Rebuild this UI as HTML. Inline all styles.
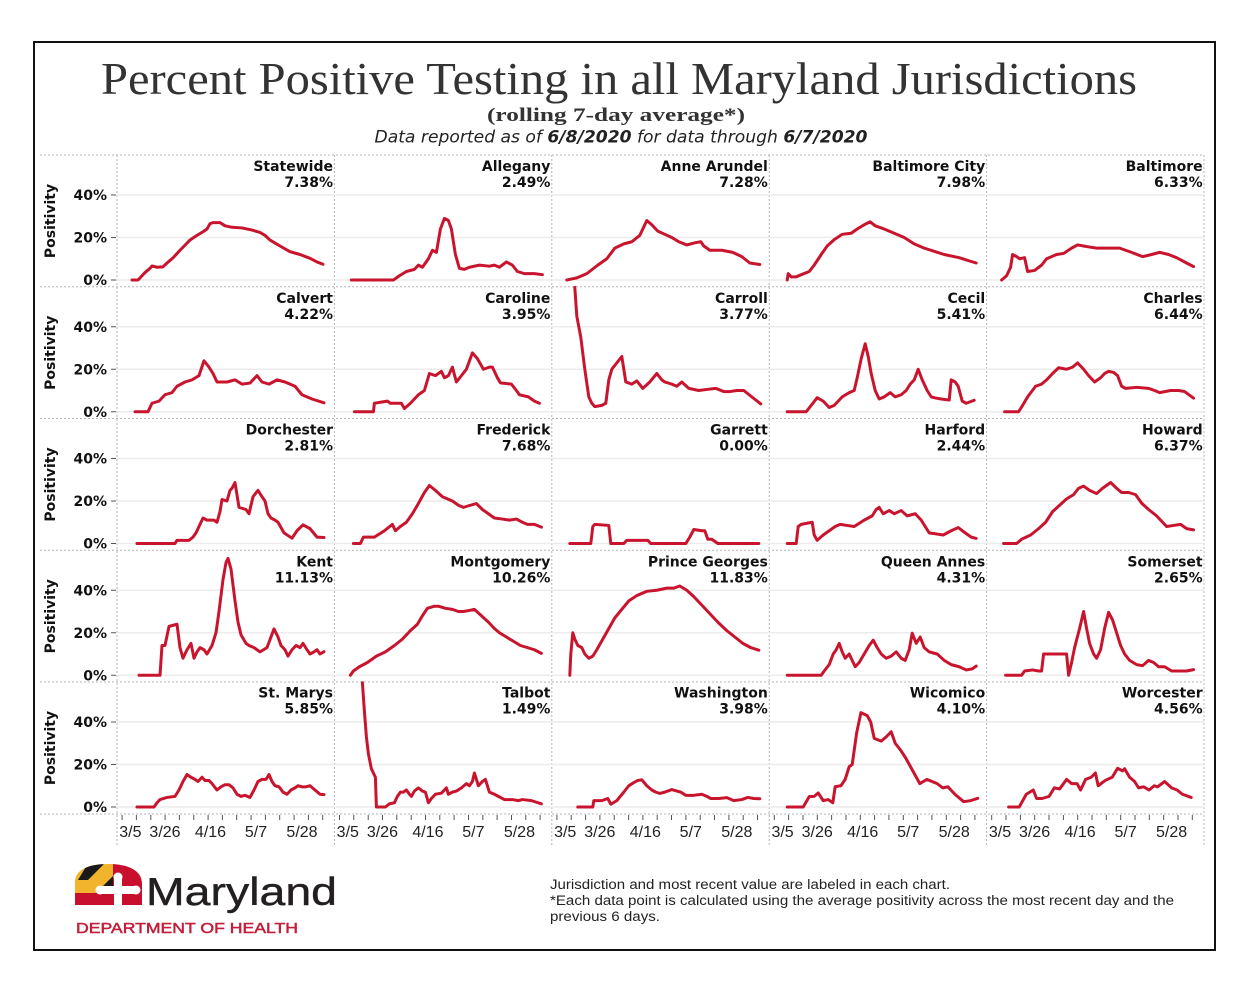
<!DOCTYPE html>
<html>
<head>
<meta charset="utf-8">
<style>
html,body{margin:0;padding:0;background:#fff;}
svg{display:block;}
.dash{stroke:#b4b4b4;stroke-width:1;stroke-dasharray:2,2;fill:none;}
.grid{stroke:#ececec;stroke-width:1.5;}
.ln{fill:none;stroke:#c9142e;stroke-width:3;stroke-linejoin:round;stroke-linecap:round;vector-effect:non-scaling-stroke;}
.lab{font-family:"DejaVu Sans","Liberation Sans",sans-serif;font-weight:bold;font-size:14px;fill:#111;text-anchor:end;}
.yl{font-family:"DejaVu Sans","Liberation Sans",sans-serif;font-weight:bold;font-size:14px;fill:#111;text-anchor:end;}
.pos{font-family:"DejaVu Sans","Liberation Sans",sans-serif;font-weight:bold;font-size:14px;fill:#111;text-anchor:middle;}
.xl{font-family:"Liberation Sans",sans-serif;font-size:16px;fill:#222;text-anchor:middle;}
.tk{stroke:#555;stroke-width:1;}
.foot{font-family:"Liberation Sans","DejaVu Sans",sans-serif;font-size:13.5px;fill:#222;}
</style>
</head>
<body>
<svg width="1256" height="986" viewBox="0 0 1256 986" xmlns="http://www.w3.org/2000/svg">
<rect x="0" y="0" width="1256" height="986" fill="#fff"/>
<rect x="34" y="42" width="1181" height="908" fill="none" stroke="#111" stroke-width="2"/>

<!-- Titles -->
<text x="619" y="94" text-anchor="middle" font-family="Liberation Serif, serif" font-size="46" fill="#333" textLength="1036" lengthAdjust="spacingAndGlyphs">Percent Positive Testing in all Maryland Jurisdictions</text>
<text x="616" y="121" text-anchor="middle" font-family="Liberation Serif, serif" font-weight="bold" font-size="19" fill="#333" textLength="258" lengthAdjust="spacingAndGlyphs">(rolling 7-day average*)</text>
<text x="621" y="142.5" text-anchor="middle" font-family="DejaVu Sans, sans-serif" font-style="italic" font-size="17" fill="#222" textLength="493" lengthAdjust="spacingAndGlyphs">Data reported as of <tspan font-weight="bold">6/8/2020</tspan> for data through <tspan font-weight="bold">6/7/2020</tspan></text>

<!-- dashed panel grid -->
<g class="dash">
<line x1="40" y1="155" x2="1204" y2="155"/>
<line x1="40" y1="286.75" x2="1204" y2="286.75"/>
<line x1="40" y1="418.5" x2="1204" y2="418.5"/>
<line x1="40" y1="550.25" x2="1204" y2="550.25"/>
<line x1="40" y1="682" x2="1204" y2="682"/>
<line x1="40" y1="814" x2="1204" y2="814"/>
<line x1="117" y1="155" x2="117" y2="846"/>
<line x1="334.4" y1="155" x2="334.4" y2="846"/>
<line x1="551.8" y1="155" x2="551.8" y2="846"/>
<line x1="769.2" y1="155" x2="769.2" y2="846"/>
<line x1="986.6" y1="155" x2="986.6" y2="846"/>
<line x1="1204" y1="155" x2="1204" y2="846"/>
</g>

<!-- light gridlines -->
<g class="grid">
<line x1="117" y1="280" x2="1204" y2="280"/><line x1="117" y1="237.5" x2="1204" y2="237.5"/><line x1="117" y1="195" x2="1204" y2="195"/>
<line x1="117" y1="411.75" x2="1204" y2="411.75"/><line x1="117" y1="369.25" x2="1204" y2="369.25"/><line x1="117" y1="326.75" x2="1204" y2="326.75"/>
<line x1="117" y1="543.5" x2="1204" y2="543.5"/><line x1="117" y1="501" x2="1204" y2="501"/><line x1="117" y1="458.5" x2="1204" y2="458.5"/>
<line x1="117" y1="675.25" x2="1204" y2="675.25"/><line x1="117" y1="632.75" x2="1204" y2="632.75"/><line x1="117" y1="590.25" x2="1204" y2="590.25"/>
<line x1="117" y1="807" x2="1204" y2="807"/><line x1="117" y1="764.5" x2="1204" y2="764.5"/><line x1="117" y1="722" x2="1204" y2="722"/>
</g>

<!-- Y axes -->
<g>
<text class="yl" x="107" y="200">40%</text><text class="yl" x="107" y="242.5">20%</text><text class="yl" x="107" y="285">0%</text>
<text class="yl" x="107" y="331.75">40%</text><text class="yl" x="107" y="374.25">20%</text><text class="yl" x="107" y="416.75">0%</text>
<text class="yl" x="107" y="463.5">40%</text><text class="yl" x="107" y="506">20%</text><text class="yl" x="107" y="548.5">0%</text>
<text class="yl" x="107" y="595.25">40%</text><text class="yl" x="107" y="637.75">20%</text><text class="yl" x="107" y="680.25">0%</text>
<text class="yl" x="107" y="727">40%</text><text class="yl" x="107" y="769.5">20%</text><text class="yl" x="107" y="812">0%</text>
</g>
<g class="tk">
<line x1="111" y1="195" x2="116" y2="195"/><line x1="111" y1="237.5" x2="116" y2="237.5"/><line x1="111" y1="280" x2="116" y2="280"/>
<line x1="111" y1="326.75" x2="116" y2="326.75"/><line x1="111" y1="369.25" x2="116" y2="369.25"/><line x1="111" y1="411.75" x2="116" y2="411.75"/>
<line x1="111" y1="458.5" x2="116" y2="458.5"/><line x1="111" y1="501" x2="116" y2="501"/><line x1="111" y1="543.5" x2="116" y2="543.5"/>
<line x1="111" y1="590.25" x2="116" y2="590.25"/><line x1="111" y1="632.75" x2="116" y2="632.75"/><line x1="111" y1="675.25" x2="116" y2="675.25"/>
<line x1="111" y1="722" x2="116" y2="722"/><line x1="111" y1="764.5" x2="116" y2="764.5"/><line x1="111" y1="807" x2="116" y2="807"/>
</g>
<text class="pos" transform="translate(55,221) rotate(-90)">Positivity</text>
<text class="pos" transform="translate(55,352.75) rotate(-90)">Positivity</text>
<text class="pos" transform="translate(55,484.5) rotate(-90)">Positivity</text>
<text class="pos" transform="translate(55,616.25) rotate(-90)">Positivity</text>
<text class="pos" transform="translate(55,748) rotate(-90)">Positivity</text>

<!-- X axes -->
<g class="tk">
<g transform="translate(117,0)"><path d="M5.1 815V820M19.4 815V820M33.8 815V820M48.1 815V820M62.4 815V820M76.8 815V820M91.1 815V820M105.4 815V820M119.7 815V820M134.1 815V820M148.4 815V820M162.7 815V820M177.1 815V820M191.4 815V820M205.7 815V820"/></g>
<g transform="translate(334.4,0)"><path d="M5.1 815V820M19.4 815V820M33.8 815V820M48.1 815V820M62.4 815V820M76.8 815V820M91.1 815V820M105.4 815V820M119.7 815V820M134.1 815V820M148.4 815V820M162.7 815V820M177.1 815V820M191.4 815V820M205.7 815V820"/></g>
<g transform="translate(551.8,0)"><path d="M5.1 815V820M19.4 815V820M33.8 815V820M48.1 815V820M62.4 815V820M76.8 815V820M91.1 815V820M105.4 815V820M119.7 815V820M134.1 815V820M148.4 815V820M162.7 815V820M177.1 815V820M191.4 815V820M205.7 815V820"/></g>
<g transform="translate(769.2,0)"><path d="M5.1 815V820M19.4 815V820M33.8 815V820M48.1 815V820M62.4 815V820M76.8 815V820M91.1 815V820M105.4 815V820M119.7 815V820M134.1 815V820M148.4 815V820M162.7 815V820M177.1 815V820M191.4 815V820M205.7 815V820"/></g>
<g transform="translate(986.6,0)"><path d="M5.1 815V820M19.4 815V820M33.8 815V820M48.1 815V820M62.4 815V820M76.8 815V820M91.1 815V820M105.4 815V820M119.7 815V820M134.1 815V820M148.4 815V820M162.7 815V820M177.1 815V820M191.4 815V820M205.7 815V820"/></g>
</g>
<g>
<g transform="translate(117,837)"><text class="xl" x="13.4">3/5</text><text class="xl" x="48">3/26</text><text class="xl" x="93.5">4/16</text><text class="xl" x="139">5/7</text><text class="xl" x="185">5/28</text></g>
<g transform="translate(334.4,837)"><text class="xl" x="13.4">3/5</text><text class="xl" x="48">3/26</text><text class="xl" x="93.5">4/16</text><text class="xl" x="139">5/7</text><text class="xl" x="185">5/28</text></g>
<g transform="translate(551.8,837)"><text class="xl" x="13.4">3/5</text><text class="xl" x="48">3/26</text><text class="xl" x="93.5">4/16</text><text class="xl" x="139">5/7</text><text class="xl" x="185">5/28</text></g>
<g transform="translate(769.2,837)"><text class="xl" x="13.4">3/5</text><text class="xl" x="48">3/26</text><text class="xl" x="93.5">4/16</text><text class="xl" x="139">5/7</text><text class="xl" x="185">5/28</text></g>
<g transform="translate(986.6,837)"><text class="xl" x="13.4">3/5</text><text class="xl" x="48">3/26</text><text class="xl" x="93.5">4/16</text><text class="xl" x="139">5/7</text><text class="xl" x="185">5/28</text></g>
</g>

<!-- ROW 0 -->
<g transform="translate(117,280)">
<text class="lab" x="216" y="-109">Statewide</text><text class="lab" x="216" y="-93">7.38%</text>
<polyline class="ln" transform="scale(1,-2.125)" points="15,0 21,0 23,1 28,3.5 33,5.5 35,6.6 40,6 46,6.2 50,8 56,10.4 63,14 73,18.8 80,21 86,22.7 90,24 93,26.5 96,27 103,27 108,25.5 115,24.8 125,24.5 135,23.5 143,22.4 148,21 153,18.8 163,16 173,13.3 183,12 193,10.2 200,8.5 206,7.4"/>
</g>
<g transform="translate(334.4,280)">
<text class="lab" x="216" y="-109">Allegany</text><text class="lab" x="216" y="-93">2.49%</text>
<polyline class="ln" transform="scale(1,-2.125)" points="17,0 59,0 65,2 72,4 80,5 84,7 88,6 94,10 98,14 102,13 106,24 110,29 114,28 117,24 121,12 125,5.5 130,5 135,6 145,7 155,6.5 160,7 165,6 172,8.5 178,7 183,4 190,3 200,3 208,2.5"/>
</g>
<g transform="translate(551.8,280)">
<text class="lab" x="216" y="-109">Anne Arundel</text><text class="lab" x="216" y="-93">7.28%</text>
<polyline class="ln" transform="scale(1,-2.125)" points="15,0 20,0.5 25,1 35,3 46,7 55,10 63,15 72,17 80,18 88,21 95,28 100,26 106,23 113,21.5 120,20 127,18 135,16.5 143,17.5 149,18 152,16 158,14 170,14 181,13 190,11 198,8 208,7.3"/>
</g>
<g transform="translate(769.2,280)">
<text class="lab" x="216" y="-109">Baltimore City</text><text class="lab" x="216" y="-93">7.98%</text>
<polyline class="ln" transform="scale(1,-2.125)" points="18,0 19,3 22,1.5 27,1.5 32,2.5 40,4 45,7 52,12 58,16 65,19 73,21.5 82,22 88,24 95,26 101,27.4 106,25.5 115,24 125,22 135,20 145,17 155,15 165,13.5 175,12 190,10.5 200,9 207,8"/>
</g>
<g transform="translate(986.6,280)">
<text class="lab" x="216" y="-109">Baltimore</text><text class="lab" x="216" y="-93">6.33%</text>
<polyline class="ln" transform="scale(1,-2.125)" points="15,0 20,2 24,6 26,12 30,11 33,10 38,10.5 41,4 48,4.5 55,7 60,10 70,12 77,12.5 85,15 91,16.5 97,16 103,15.5 110,15 120,15 133,15 145,13 156,11 165,12 173,13 182,12 190,10.5 200,8 207,6.3"/>
</g>

<!-- ROW 1 -->
<g transform="translate(117,411.75)">
<text class="lab" x="216" y="-109">Calvert</text><text class="lab" x="216" y="-93">4.22%</text>
<polyline class="ln" transform="scale(1,-2.125)" points="18,0 31,0 35,4 42,5 48,8 55,9 60,12 68,14 75,15 82,17 87,24 92,21 96,18 100,14 110,14 118,15 125,13 133,13.5 140,17 145,14 152,13 160,15 168,14 178,12 185,8 195,6 207,4.2"/>
</g>
<g transform="translate(334.4,411.75)">
<text class="lab" x="216" y="-109">Caroline</text><text class="lab" x="216" y="-93">3.95%</text>
<polyline class="ln" transform="scale(1,-2.125)" points="20,0 39,0 40,4 53,5 56,4 67,4 70,1.5 76,4 84,8 90,10 95,18 101,17 107,19 110,16 114,17 118,21 122,14 127,17 132,20 138,27.7 143,25 149,20 155,21 158,21 163,16 166,13.6 177,13 182,10 185,8 194,7 200,5 205,4"/>
</g>
<g transform="translate(551.8,411.75)">
<text class="lab" x="216" y="-109">Carroll</text><text class="lab" x="216" y="-93">3.77%</text>
<polyline class="ln" transform="scale(1,-2.125)" points="23,58.5 25,45 29,35 33,20 37,7 40,4 43,2.4 50,3 54,4 57,15 60,20 65,23 70,26 74,14 80,13 85,14.5 91,11 98,14 105,18 110,15 113,14 120,13 125,12 130,14 137,11 147,10 155,10.5 164,11 172,9.5 178,9.5 185,10 192,10 200,7 209,3.7"/>
</g>
<g transform="translate(769.2,411.75)">
<text class="lab" x="216" y="-109">Cecil</text><text class="lab" x="216" y="-93">5.41%</text>
<polyline class="ln" transform="scale(1,-2.125)" points="18,0 37,0 42,3 48,6.6 54,5 60,2 65,3 73,7 80,9 85,10 88,16 92,25 96,32 99,26 102,18 106,10 110,6 115,7 121,9 126,7 132,8 137,10 141,13 145,15 149,20 153,15 158,10 162,7 166,6.5 172,6 180,5.5 182,15 186,14 189,12 193,5 197,4 205,5.4"/>
</g>
<g transform="translate(986.6,411.75)">
<text class="lab" x="216" y="-109">Charles</text><text class="lab" x="216" y="-93">6.44%</text>
<polyline class="ln" transform="scale(1,-2.125)" points="18,0 32,0 36,3 41,7 49,12 55,13 60,15 66,18 72,20.7 80,20 86,21 91,23 97,20 102,17 108,14 114,16 118,18 122,19 127,18.5 131,17 135,12 139,11 150,11.5 162,11 168,10 173,9 184,10 192,10 198,9.5 207,6.4"/>
</g>

<!-- ROW 2 -->
<g transform="translate(117,543.5)">
<text class="lab" x="216" y="-109">Dorchester</text><text class="lab" x="216" y="-93">2.81%</text>
<polyline class="ln" transform="scale(1,-2.125)" points="20,0 58,0 60,1.5 72,1.5 76,3 79,5 83,9 86,12 90,11 97,11 100,10 103,15 105,20.7 110,20 113,25 115,26 118,28.7 122,17 129,16 132,14 136,22 141,25 145,22 148,20 151,14 154,12 158,11 161,10 167,5 175,2.5 180,6 186,8.8 193,7 200,3 207,2.8"/>
</g>
<g transform="translate(334.4,543.5)">
<text class="lab" x="216" y="-109">Frederick</text><text class="lab" x="216" y="-93">7.68%</text>
<polyline class="ln" transform="scale(1,-2.125)" points="19,0 26,0 29,3 40,3 50,6 58,9 61,6 66,8 72,10 78,14 83,18 90,24 95,27.3 101,25 108,22 118,20 124,18 129,17 136,18 142,18.8 148,16 154,14 160,12 168,11.5 175,11 182,11.5 188,10 193,9 200,9 207,7.7"/>
</g>
<g transform="translate(551.8,543.5)">
<text class="lab" x="216" y="-109">Garrett</text><text class="lab" x="216" y="-93">0.00%</text>
<polyline class="ln" transform="scale(1,-2.125)" points="18,0 39,0 41,8 43,9 57,8.5 59,0 72,0 75,1.5 96,1.5 99,0 134,0 138,3 142,6.6 150,6 153,6 156,2 160,2 166,0 207,0"/>
</g>
<g transform="translate(769.2,543.5)">
<text class="lab" x="216" y="-109">Harford</text><text class="lab" x="216" y="-93">2.44%</text>
<polyline class="ln" transform="scale(1,-2.125)" points="18,0 27,0 29,8 32,9 43,10 45,4 48,1.5 54,4 60,6 66,8 71,9 78,8.5 85,8 95,11 103,13 107,16 110,17 114,14 120,15.5 125,14 132,15.5 138,13 146,14 152,11 160,5 167,4.5 174,4 182,6 189,7.5 196,5 202,3 207,2.4"/>
</g>
<g transform="translate(986.6,543.5)">
<text class="lab" x="216" y="-109">Howard</text><text class="lab" x="216" y="-93">6.37%</text>
<polyline class="ln" transform="scale(1,-2.125)" points="17,0 30,0 35,2 44,4 52,7 59,10 66,15 73,18 80,21 87,23 92,26 97,27 103,25 110,23.5 116,26 124,28.7 130,26 135,24 142,24 149,23 155,19 162,16 170,13 180,8 187,8.5 194,9 200,7 207,6.4"/>
</g>

<!-- ROW 3 -->
<g transform="translate(117,675.25)">
<text class="lab" x="216" y="-109">Kent</text><text class="lab" x="216" y="-93">11.13%</text>
<polyline class="ln" transform="scale(1,-2.125)" points="22,0 43,0 45,14 48,14 52,23 60,24 63,13 66,8 68,10 70,12 74,15 77,8 80,11 83,13 87,12 90,10 95,14 99,20 102,30 106,45 109,53 111,55 114,50 118,35 121,25 124,19 129,15 132,14 137,13 143,11 150,13 157,21.8 161,18 164,14 168,12 171,9 175,12 179,14 183,13 186,15 190,12 193,10 197,11 200,12 203,10 207,11.1"/>
</g>
<g transform="translate(334.4,675.25)">
<text class="lab" x="216" y="-109">Montgomery</text><text class="lab" x="216" y="-93">10.26%</text>
<polyline class="ln" transform="scale(1,-2.125)" points="16,0 19,2 25,4 33,6 42,9 51,11 60,14 68,17 76,21 83,24 88,28 93,31.5 100,32.5 104,32.5 111,31.5 118,31 124,30 129,30 135,30.5 140,31 147,28 154,25 160,22 165,20 172,18 179,16 186,14 193,13 200,12 207,10.3"/>
</g>
<g transform="translate(551.8,675.25)">
<text class="lab" x="216" y="-109">Prince Georges</text><text class="lab" x="216" y="-93">11.83%</text>
<polyline class="ln" transform="scale(1,-2.125)" points="18,0 19,10 21,20 23,17 26,14 30,13 33,10 37,8 41,9 45,12 51,17 57,22 63,27 70,31 77,35 85,37.5 95,39.5 105,40 115,41 122,41 128,42 135,40 142,37 150,33 158,29 166,25 175,21 183,18 191,15 199,13 207,11.8"/>
</g>
<g transform="translate(769.2,675.25)">
<text class="lab" x="216" y="-109">Queen Annes</text><text class="lab" x="216" y="-93">4.31%</text>
<polyline class="ln" transform="scale(1,-2.125)" points="18,0 52,0 55,2 60,5 64,10 67,12 70,15 73,11 76,8 80,10 83,7 86,4 90,6 95,10 100,14 104,16.5 108,13 112,10 117,8 122,9 127,11 132,8 136,7 140,12 143,19.8 147,15 151,18 155,13 160,11 168,10 175,7 182,5 190,4 197,2.5 203,3 207,4.3"/>
</g>
<g transform="translate(986.6,675.25)">
<text class="lab" x="216" y="-109">Somerset</text><text class="lab" x="216" y="-93">2.65%</text>
<polyline class="ln" transform="scale(1,-2.125)" points="19,0 35,0 38,2 46,2.5 52,2 55,2 57,10 80,10 82,0 85,6 88,13 93,22 97,30 100,22 103,15 107,10 110,8 114,12 118,22 122,29.6 126,26 130,20 134,14 138,10 143,7 150,5 156,4.5 162,7 167,6 172,4 178,4 185,2 192,2 200,2 207,2.65"/>
</g>

<!-- ROW 4 -->
<g transform="translate(117,807)">
<text class="lab" x="216" y="-109.5">St. Marys</text><text class="lab" x="216" y="-93.5">5.85%</text>
<polyline class="ln" transform="scale(1,-2.125)" points="20,0 37,0 40,2 43,3.5 50,4.5 58,5 62,8 66,12 70,15.3 74,14 78,13 81,12 85,14 88,12.5 92,12.5 95,11 100,8 104,9.5 108,10.5 112,10.5 116,9 120,6 124,5 128,5.5 133,4.5 137,8 141,12 145,13 149,13 152,15.3 155,12 158,10 162,9.5 166,7 170,6 174,8 178,9 181,10 185,9.5 189,9.5 193,10 198,8 203,6 207,5.85"/>
</g>
<g transform="translate(334.4,807)">
<text class="lab" x="216" y="-109.5">Talbot</text><text class="lab" x="216" y="-93.5">1.49%</text>
<polyline class="ln" transform="scale(1,-2.125)" points="28,58.5 30,45 32,33 34,25 37,18 40,15 41,14 42,0 51,0 55,1.5 60,2 63,5 66,7 69,7 72,8 75,6 77,5 80,7.5 84,9 88,7.5 91,7 94,2 97,4 101,6 107,6.5 112,9 114,6 118,7 122,7.5 127,9 132,11 135,10 138,12 140,16 144,10 148,12 151,13 155,7 160,6 164,5 170,3.5 178,3.5 184,3 188,3.5 197,3 207,1.5"/>
</g>
<g transform="translate(551.8,807)">
<text class="lab" x="216" y="-109.5">Washington</text><text class="lab" x="216" y="-93.5">3.98%</text>
<polyline class="ln" transform="scale(1,-2.125)" points="26,0 41,0 42,3 50,3 56,4 59,1.3 65,3 72,7 77,10 82,11.5 86,12.5 90,12.8 95,10 100,8 104,7 108,6.4 113,7 120,8.2 125,7.5 129,7 134,5.5 142,5.5 150,6 155,5 159,4 167,4 175,4.4 182,3 190,3.5 196,4.5 202,4 208,3.9"/>
</g>
<g transform="translate(769.2,807)">
<text class="lab" x="216" y="-109.5">Wicomico</text><text class="lab" x="216" y="-93.5">4.10%</text>
<polyline class="ln" transform="scale(1,-2.125)" points="18,0 34,0 40,4.9 45,5 49,6.6 54,3 59,3.5 63.6,2 66,9.6 71.7,10 76,13 80,19 83,20 87.5,35 91.7,44.4 98,43 101.5,40 105,32.3 112,31 117,33 122,35.4 126,30 131,27 136.6,23 143.6,17 150.6,11 157.7,13 168,11 173.5,9 178.7,9.5 185.7,6 194.5,2.5 201.5,3 208.5,4.1"/>
</g>
<g transform="translate(986.6,807)">
<text class="lab" x="216" y="-109.5">Worcester</text><text class="lab" x="216" y="-93.5">4.56%</text>
<polyline class="ln" transform="scale(1,-2.125)" points="22,0 32.6,0 39.7,6 46.7,8 50,4 55.5,4 62.5,5 67.7,9 73,8.5 80,13 85,11 90.5,11 94,8 99,13 104.6,14 108.8,16 111.6,10 118.6,12.5 125.6,14 131,18.2 136,17 138,18 143,14 148,12 152,9 157,9.5 162.5,8 167.7,10 171,9.5 178,12 185,9 190.5,8 195.8,6 204.6,4.5"/>
</g>

<!-- Logo -->
<defs>
<clipPath id="dome"><path d="M75,905 L75,882 C75,870 88,864 108,864 C128,864 142,870 142,884 L142,905 Z"/></clipPath>
</defs>
<g clip-path="url(#dome)">
<rect x="70" y="860" width="45" height="34" fill="#f2b42c"/>
<polygon points="90,860 108,860 88,880 78,880" fill="#1a1a1a"/>
<polygon points="95,894 115,874 115,894" fill="#1a1a1a"/>
<rect x="113" y="860" width="32" height="34" fill="#c8102e"/>
<rect x="70" y="893" width="75" height="14" fill="#c8102e"/>
<rect x="114" y="877" width="8" height="29" fill="#fff"/>
<rect x="99" y="886" width="38" height="8" fill="#fff"/>
<circle cx="100" cy="890" r="4.5" fill="#fff"/>
<circle cx="136" cy="890" r="4.5" fill="#fff"/>
<circle cx="118" cy="877" r="4.5" fill="#fff"/>
</g>
<text x="146" y="905" font-family="Liberation Sans, sans-serif" font-size="39" fill="#231f20" stroke="#231f20" stroke-width="0.4" textLength="191" lengthAdjust="spacingAndGlyphs">Maryland</text>
<text x="76" y="933" font-family="Liberation Sans, sans-serif" font-size="15" fill="#c41e3a" stroke="#c41e3a" stroke-width="0.5" textLength="222" lengthAdjust="spacingAndGlyphs">DEPARTMENT OF HEALTH</text>

<!-- Footnote -->
<text class="foot" x="550" y="889" textLength="400" lengthAdjust="spacingAndGlyphs">Jurisdiction and most recent value are labeled in each chart.</text>
<text class="foot" x="550" y="905" textLength="624" lengthAdjust="spacingAndGlyphs">*Each data point is calculated using the average positivity across the most recent day and the</text>
<text class="foot" x="550" y="921" textLength="110" lengthAdjust="spacingAndGlyphs">previous 6 days.</text>
</svg>
</body>
</html>
